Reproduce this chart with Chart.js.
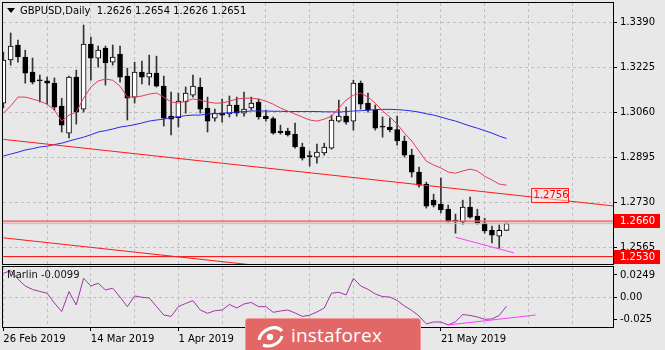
<!DOCTYPE html>
<html>
<head>
<meta charset="utf-8">
<script src="https://cdn.jsdelivr.net/npm/chart.js@4.4.1/dist/chart.umd.min.js"></script>
<style>
    body { margin: 0; background: #e8e8e8; }
    #wrap { position: relative; width: 665px; height: 350px; overflow: hidden; background: #e8e8e8; font-family: "DejaVu Sans", sans-serif; }
    #mainPane { position: absolute; left: 0; top: 0; }
    #subPane { position: absolute; left: 0; top: 266px; }
    #title { position: absolute; left: 7px; top: 5px; font-size: 10px; color: #000; white-space: pre; }
    #title .tri { display: inline-block; width: 0; height: 0; border-left: 4px solid transparent; border-right: 4px solid transparent; border-top: 5px solid #000; margin-right: 5px; vertical-align: 1px; }
    #marlinLabel { position: absolute; left: 7px; top: 269px; font-size: 10px; color: #111; white-space: pre; }
    #brand { position: absolute; left: 245px; top: 318px; width: 176px; height: 34px; background: #e26767; border: 1px solid #f09a9a; border-radius: 3px 3px 0 0; box-sizing: border-box; }
    #brand svg { position: absolute; left: 10px; top: 4px; }
    #brand span { position: absolute; left: 45px; top: 3px; font-family: "Open Sans", sans-serif; font-size: 19px; color: #fff; letter-spacing: 0.2px; }
</style>
</head>
<body>
<div id="wrap">
    <canvas id="mainPane" width="665" height="266"></canvas>
    <canvas id="subPane" width="665" height="84"></canvas>
    <div id="title"></div>
    <div id="marlinLabel"></div>
    <div id="brand">
        <svg width="30" height="26" viewBox="0 0 30 26">
            <path d="M3 17 C 5 6, 20 1, 26 8" stroke="#fff" stroke-width="3" fill="none"/>
            <path d="M7 22 C 14 25, 24 21, 26 13" stroke="#fff" stroke-width="3" fill="none"/>
            <circle cx="14" cy="14" r="3.2" fill="#fff"/>
        </svg>
        <span>instaforex</span>
    </div>
</div>
<script>
// GBPUSD daily, 26 Feb 2019 .. 3 Jun 2019 (bar index 0..69)
const opens = [1.3093,1.3251,1.3306,1.3262,1.3207,1.3177,1.3175,1.3166,1.3082,1.2983,
    1.3188,1.3071,1.3309,1.3258,1.3295,1.3243,1.3273,1.3192,1.3115,1.3207,
    1.3188,1.3203,1.3155,1.3045,1.3040,1.3097,1.3122,1.3152,1.3075,1.3038,
    1.3056,1.3053,1.3086,1.3056,1.3075,1.3097,1.3045,1.3036,1.2990,1.2990,
    1.2979,1.2932,1.2899,1.2895,1.2910,1.2928,1.3027,1.3045,1.3027,1.3166,
    1.3093,1.3067,1.3009,1.3005,1.2996,1.2954,1.2902,1.2840,1.2796,1.2737,
    1.2723,1.2704,1.2662,1.2657,1.2712,1.2679,1.2653,1.2626,1.2605,1.2626];
const highs = [1.3280,1.3350,1.3324,1.3287,1.3258,1.3196,1.3188,1.3185,1.3111,1.3192,
    1.3214,1.3379,1.3335,1.3302,1.3302,1.3306,1.3302,1.3221,1.3243,1.3247,
    1.3269,1.3265,1.3192,1.3133,1.3130,1.3152,1.3196,1.3185,1.3115,1.3071,
    1.3108,1.3119,1.3115,1.3133,1.3115,1.3108,1.3067,1.3042,1.3012,1.3001,
    1.3020,1.2946,1.2917,1.2943,1.2946,1.3049,1.3104,1.3078,1.3177,1.3174,
    1.3130,1.3086,1.3042,1.3038,1.3045,1.2972,1.2924,1.2858,1.2803,1.2759,
    1.2818,1.2719,1.2686,1.2737,1.2748,1.2704,1.2671,1.2642,1.2646,1.2654];
const lows = [1.3075,1.3232,1.3243,1.3166,1.3163,1.3097,1.3089,1.3067,1.2987,1.2965,
    1.3016,1.3060,1.3177,1.3225,1.3159,1.3232,1.3170,1.3031,1.3093,1.3163,
    1.3159,1.3152,1.3009,1.2976,1.3005,1.3056,1.3115,1.3056,1.2987,1.3027,
    1.3023,1.3042,1.3045,1.3045,1.3067,1.3034,1.3027,1.2979,1.2979,1.2972,
    1.2928,1.2884,1.2862,1.2873,1.2902,1.2924,1.3023,1.3016,1.2994,1.3071,
    1.3060,1.2994,1.2968,1.2987,1.2939,1.2895,1.2822,1.2785,1.2708,1.2712,
    1.2690,1.2657,1.2616,1.2649,1.2671,1.2649,1.2616,1.2580,1.2561,1.2626];
const closes = [1.3251,1.3302,1.3262,1.3203,1.3170,1.3175,1.3166,1.3078,1.3012,1.3188,
    1.3060,1.3309,1.3258,1.3287,1.3240,1.3262,1.3188,1.3111,1.3207,1.3188,
    1.3203,1.3155,1.3038,1.3034,1.3100,1.3130,1.3155,1.3071,1.3027,1.3056,
    1.3049,1.3086,1.3056,1.3071,1.3093,1.3042,1.3036,1.2983,1.2985,1.2976,
    1.2932,1.2891,1.2897,1.2913,1.2932,1.3031,1.3045,1.3023,1.3166,1.3089,
    1.3067,1.3001,1.3005,1.2996,1.2954,1.2902,1.2840,1.2792,1.2715,1.2719,
    1.2701,1.2660,1.2660,1.2712,1.2675,1.2653,1.2624,1.2609,1.2626,1.2651];

// moving averages
const fastMa = [1.3056,1.3082,1.3115,1.3115,1.3108,1.3100,1.3089,1.3067,1.3027,1.3049,
    1.3060,1.3111,1.3152,1.3174,1.3181,1.3177,1.3155,1.3115,1.3115,1.3119,
    1.3126,1.3130,1.3115,1.3097,1.3093,1.3100,1.3108,1.3104,1.3097,1.3093,
    1.3093,1.3100,1.3108,1.3111,1.3111,1.3108,1.3100,1.3089,1.3075,1.3064,
    1.3053,1.3042,1.3031,1.3027,1.3034,1.3045,1.3075,1.3104,1.3122,1.3130,
    1.3115,1.3093,1.3064,1.3042,1.3016,1.2983,1.2954,1.2917,1.2880,1.2866,
    1.2855,1.2840,1.2836,1.2844,1.2851,1.2844,1.2825,1.2811,1.2796,1.2792];
const slowMa = [1.2899,1.2906,1.2913,1.2921,1.2926,1.2932,1.2935,1.2941,1.2946,1.2954,
    1.2961,1.2968,1.2977,1.2987,1.2992,1.2998,1.3005,1.3009,1.3014,1.3020,
    1.3027,1.3031,1.3034,1.3040,1.3043,1.3047,1.3049,1.3049,1.3053,1.3054,
    1.3056,1.3058,1.3060,1.3062,1.3064,1.3064,1.3064,1.3063,1.3063,1.3062,
    1.3062,1.3062,1.3062,1.3062,1.3061,1.3061,1.3060,1.3062,1.3064,1.3065,
    1.3067,1.3069,1.3070,1.3070,1.3069,1.3067,1.3064,1.3060,1.3054,1.3049,
    1.3042,1.3034,1.3027,1.3018,1.3009,1.3001,1.2992,1.2983,1.2972,1.2963];

// drawn objects: [bar, price]
const trendUpper = [[0, 1.2960], [70, 1.2756], [83.6, 1.2716]];
const trendLower = [[0, 1.2599], [34, 1.2500]];
const supportLine = [[62, 1.2601], [70, 1.2544]];
const levels = [1.2660, 1.2530];
const bidPrice = 1.2651;

// Marlin oscillator
const marlin = [0.0268,0.0297,0.0204,0.0126,0.0087,0.0065,0.0045,-0.0064,-0.0159,0.0063,
    -0.0086,0.0212,0.0126,0.0156,0.0082,0.0101,0.0003,-0.0105,0.0015,0.0000,
    -0.0008,-0.0103,-0.0198,-0.0214,-0.0105,-0.0069,-0.0038,-0.0142,-0.0179,-0.0150,
    -0.0142,-0.0080,-0.0120,-0.0075,-0.0058,-0.0105,-0.0105,-0.0168,-0.0153,-0.0142,
    -0.0175,-0.0214,-0.0200,-0.0164,-0.0120,0.0045,0.0056,0.0026,0.0212,0.0126,
    0.0089,0.0037,0.0007,0.0003,-0.0036,-0.0097,-0.0147,-0.0209,-0.0298,-0.0276,
    -0.0276,-0.0309,-0.0273,-0.0192,-0.0203,-0.0220,-0.0246,-0.0242,-0.0203,-0.0099];
const marlinTrend = [[61, -0.0309], [73, -0.0198]];

// axes
const priceTicks = [1.3390, 1.3225, 1.3060, 1.2895, 1.2730, 1.2565];
const marlinTicks = [0.0249, 0, -0.025];
const marlinTickLabels = ["0.0249", "0.00", "-0.025"];
const dateBars = [0, 12, 24, 36, 48, 60];
const dateLabels = ["26 Feb 2019", "14 Mar 2019", "1 Apr 2019", "17 Apr 2019", "3 May 2019", "21 May 2019"];
const gridBars = [6, 12, 18, 24, 30, 36, 42, 48, 54, 60, 66, 72, 78];

const BAR_MIN = -0.05, BAR_MAX = 83.6;
const gridColor = "#bfbfbf";
const FONT = "'DejaVu Sans', sans-serif";

Chart.defaults.font.family = FONT;
Chart.defaults.font.size = 10;
Chart.defaults.color = "#000";

const last = closes.length - 1;
document.getElementById("title").innerHTML = '<span class="tri"></span>GBPUSD,Daily  ' +
    [opens[last], highs[last], lows[last], closes[last]].map(v => v.toFixed(4)).join(" ");
document.getElementById("marlinLabel").textContent = "Marlin " + marlin[marlin.length - 1].toFixed(4);

const toPoints = arr => arr.map(p => ({x: p[0], y: p[1]}));
const series = arr => arr.map((v, i) => ({x: i, y: v}));
const flat = v => [{x: BAR_MIN - 1, y: v}, {x: BAR_MAX + 1, y: v}];

function lineSet(data, color, width) {
    return {type: "line", data: data, borderColor: color, borderWidth: width || 1, pointRadius: 0, tension: 0, fill: false};
}

// black frame around each plot area
const framePlugin = {
    id: "frame",
    afterDraw(chart) {
        const {ctx, chartArea: a} = chart;
        ctx.save();
        ctx.strokeStyle = "#000";
        ctx.lineWidth = 1;
        ctx.strokeRect(Math.round(a.left) - 0.5, Math.round(a.top) - 0.5, Math.round(a.right - a.left) + 1, Math.round(a.bottom - a.top) + 1);
        ctx.restore();
    }
};

// price tags for the horizontal levels and the trend line
const tagPlugin = {
    id: "tags",
    afterDraw(chart) {
        const {ctx, chartArea: a, scales: {x, y}} = chart;
        ctx.save();
        ctx.font = "10px " + FONT;
        ctx.textBaseline = "middle";
        levels.forEach(v => {
            const py = Math.round(y.getPixelForValue(v));
            ctx.fillStyle = "#ff0000";
            ctx.fillRect(a.right + 1, py - 7, 46, 14);
            ctx.fillStyle = "#fff";
            ctx.fillText(v.toFixed(4), a.right + 7, py);
        });
        const tv = trendUpper[1][1];
        const tx = Math.round(x.getPixelForValue(trendUpper[1][0] + 2.3)) + 0.5;
        const ty = Math.round(y.getPixelForValue(tv)) + 0.5;
        ctx.fillStyle = "rgba(255,225,225,0.55)";
        ctx.fillRect(tx, ty - 7, 37, 14);
        ctx.strokeStyle = "#ff2020";
        ctx.strokeRect(tx, ty - 7, 37, 14);
        ctx.fillStyle = "#ff0000";
        ctx.fillText(tv.toFixed(4), tx + 2, ty);
        ctx.restore();
    }
};

const mainPane = document.getElementById("mainPane");
const mainChart = new Chart(mainPane, {
    type: "bar",
    data: {
        datasets: [
            lineSet(toPoints(supportLine), "#ff3cff"),
            lineSet(toPoints(trendUpper), "#ff1a1a"),
            lineSet(toPoints(trendLower), "#ff1a1a"),
            lineSet(flat(levels[0]), "rgba(240,95,95,0.8)", 2),
            lineSet(flat(levels[1]), "#ff0000"),
            lineSet(flat(bidPrice), "#c0c0c0"),
            lineSet(series(fastMa), "rgb(228,60,90)"),
            lineSet(series(slowMa), "rgb(40,40,235)"),
            {
                data: opens.map((o, i) => ({x: i, y: [o, closes[i]]})),
                backgroundColor: opens.map((o, i) => closes[i] >= o ? "#ffffff" : "#000000"),
                borderColor: "#000",
                borderWidth: 1,
                borderSkipped: false,
                barThickness: 5,
                minBarLength: 1,
                grouped: false
            },
            {
                data: lows.map((l, i) => ({x: i, y: [l, highs[i]]})),
                backgroundColor: "#333",
                borderWidth: 0,
                barThickness: 1,
                grouped: false
            }
        ]
    },
    options: {
        responsive: false,
        animation: false,
        devicePixelRatio: 1,
        layout: {padding: {left: 3, top: 3, right: 0, bottom: 2}},
        plugins: {legend: {display: false}, tooltip: {enabled: false}},
        scales: {
            x: {
                type: "linear", min: BAR_MIN, max: BAR_MAX, offset: false,
                ticks: {display: false},
                grid: {color: gridColor, drawTicks: false, offset: false, borderDash: [3, 3]},
                border: {display: false, dash: [3, 3]},
                afterBuildTicks: s => { s.ticks = gridBars.map(v => ({value: v})); },
                afterFit: s => { s.height = 0; s.paddingLeft = 0; s.paddingRight = 0; }
            },
            y: {
                position: "right",
                min: 1.2503, max: 1.3460,
                ticks: {padding: 3, callback: v => v.toFixed(4)},
                grid: {color: gridColor, tickColor: "#000", tickLength: 4, tickBorderDash: [], borderDash: [3, 3]},
                border: {display: false, dash: [3, 3]},
                afterBuildTicks: s => { s.ticks = priceTicks.map(v => ({value: v})); },
                afterFit: s => { s.width = 52; s.paddingTop = 0; s.paddingBottom = 0; }
            }
        }
    },
    plugins: [framePlugin, tagPlugin]
});

const subPane = document.getElementById("subPane");
const subChart = new Chart(subPane, {
    type: "line",
    data: {
        datasets: [
            lineSet(toPoints(marlinTrend), "#ff3cff"),
            lineSet(series(marlin), "#a035a8")
        ]
    },
    options: {
        responsive: false,
        animation: false,
        devicePixelRatio: 1,
        layout: {padding: {left: 3, top: 1, right: 0, bottom: 0}},
        plugins: {legend: {display: false}, tooltip: {enabled: false}},
        scales: {
            x: {
                type: "linear", min: BAR_MIN, max: BAR_MAX, offset: false,
                ticks: {
                    align: "start", padding: 2, maxRotation: 0, autoSkip: false,
                    callback: v => { const k = dateBars.indexOf(v); return k < 0 ? "" : dateLabels[k]; }
                },
                grid: {
                    color: gridColor, tickLength: 4, tickBorderDash: [], borderDash: [3, 3],
                    tickColor: c => (c.tick && dateBars.indexOf(c.tick.value) >= 0) ? "#000" : "rgba(0,0,0,0)"
                },
                border: {display: false, dash: [3, 3]},
                afterBuildTicks: s => { s.ticks = [0].concat(gridBars).map(v => ({value: v})); },
                afterFit: s => { s.height = 23; s.paddingLeft = 0; s.paddingRight = 0; }
            },
            y: {
                position: "right",
                min: -0.0332, max: 0.0338,
                ticks: {padding: 3, callback: v => marlinTickLabels[marlinTicks.indexOf(v)]},
                grid: {
                    color: c => (c.tick && c.tick.value === 0) ? gridColor : "rgba(0,0,0,0)",
                    tickColor: "#000", tickLength: 4, tickBorderDash: [], borderDash: [3, 3]
                },
                border: {display: false, dash: [3, 3]},
                afterBuildTicks: s => { s.ticks = marlinTicks.map(v => ({value: v})); },
                afterFit: s => { s.width = 52; s.paddingTop = 0; s.paddingBottom = 0; }
            }
        }
    },
    plugins: [framePlugin]
});
</script>
</body>
</html>
